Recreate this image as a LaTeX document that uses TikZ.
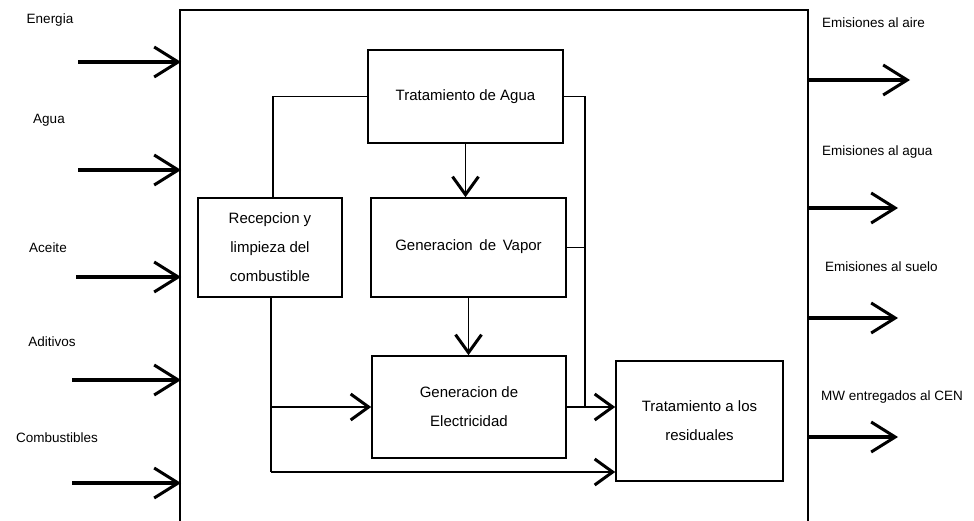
\documentclass[tikz,border=0pt]{standalone}
\usepackage{fontspec}
\setmainfont{Liberation Sans}
\usetikzlibrary{arrows.meta}
\begin{document}
\begin{tikzpicture}[x=1pt,y=-1pt,
  txt/.style={font=\fontsize{13.5}{29}\selectfont, inner sep=0pt},
  lbl/.style={txt, anchor=center},
  box/.style={draw, line width=1.6pt, inner sep=0pt, align=center, font=\fontsize{15}{29}\selectfont},
  ext/.style={line width=3.2pt, -{Straight Barb[length=24pt,width=30pt,line width=3pt]}},
  intarr/.style={line width=1.6pt, -{Straight Barb[length=18pt,width=26pt,line width=3pt]}},
  conn/.style={line width=1.6pt}]
\useasboundingbox[fill=white] (0,0) rectangle (974,521);
% outer frame
\draw[line width=1.6pt] (180,521) -- (180,10) -- (808,10) -- (808,521);
% inputs
\node[lbl] (l1) at (50,20) {Energia};
\node[lbl] (l2) at (49,120) {Agua};
\node[lbl] (l3) at (48,248) {Aceite};
\node[lbl] (l4) at (52,342) {Aditivos};
\node[lbl] (l5) at (57,438) {Combustibles};
\coordinate (a1s) at (78,62);  \coordinate (a1t) at (181,62);
\coordinate (a2s) at (78,170); \coordinate (a2t) at (181,170);
\coordinate (a3s) at (76,277); \coordinate (a3t) at (181,277);
\coordinate (a4s) at (72,380); \coordinate (a4t) at (181,380);
\coordinate (a5s) at (72,483); \coordinate (a5t) at (181,483);
\draw[ext] (a1s) -- (a1t);
\draw[ext] (a2s) -- (a2t);
\draw[ext] (a3s) -- (a3t);
\draw[ext] (a4s) -- (a4t);
\draw[ext] (a5s) -- (a5t);
% outputs
\node[txt, anchor=west] (o1) at (822,23) {Emisiones al aire};
\node[txt, anchor=west] (o2) at (822,152) {Emisiones al agua};
\node[txt, anchor=west] (o3) at (825,267) {Emisiones al suelo};
\node[txt, anchor=west] (o4) at (821,397) {MW entregados al CEN};
\coordinate (b1s) at (808,80);  \coordinate (b1t) at (910,80);
\coordinate (b2s) at (808,208); \coordinate (b2t) at (898,208);
\coordinate (b3s) at (808,318); \coordinate (b3t) at (898,318);
\coordinate (b4s) at (808,437); \coordinate (b4t) at (898,437);
\draw[ext] (b1s) -- (b1t);
\draw[ext] (b2s) -- (b2t);
\draw[ext] (b3s) -- (b3t);
\draw[ext] (b4s) -- (b4t);
% process boxes
\node[box, minimum width=195pt, minimum height=93pt] (trat) at (465.5,96.5) {\raisebox{3pt}{Tratamiento de Agua}};
\node[box, minimum width=144pt, minimum height=99pt] (recep) at (270,247.5) {Recepcion y\\limpieza del\\combustible};
\node[box, minimum width=195pt, minimum height=99pt] (vapor) at (468.5,247.5) {\raisebox{4pt}{Generacion\, de\, Vapor}};
\node[box, minimum width=194pt, minimum height=102pt] (elec) at (469,407) {Generacion de\\Electricidad};
\node[box, minimum width=167pt, minimum height=120pt] (resid) at (699.5,421) {Tratamiento a los\\residuales};
% connectors
\coordinate (rj) at (585,407);
\coordinate (lb) at (271,472);
\draw[conn] (trat.west) -| ([xshift=3pt]recep.north);
\draw[conn] (trat.east) -| (rj);
\draw[conn] (vapor.east) -- (vapor.east -| rj);
\draw[intarr] (trat.south) -- (trat.south |- vapor.north);
\draw[intarr] (vapor.south) -- (vapor.south |- elec.north);
\draw[intarr] (elec.east) -- (elec.east -| resid.west);
\draw[conn] ([xshift=1pt]recep.south) -- (lb);
\draw[intarr] (lb |- elec.west) -- (elec.west);
\draw[intarr] (lb) -- (lb -| resid.west);
\end{tikzpicture}
\end{document}
